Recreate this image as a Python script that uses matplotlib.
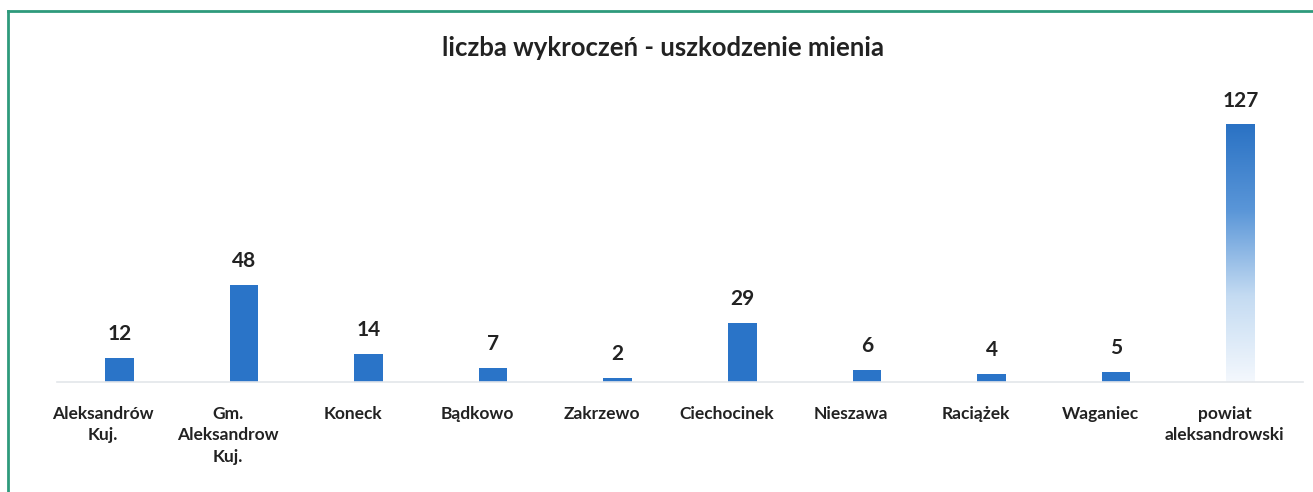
import numpy as np
import matplotlib.pyplot as plt
import matplotlib.transforms as mtransforms
from matplotlib.colors import LinearSegmentedColormap
from matplotlib.lines import Line2D

categories = ["Aleksandrów\nKuj.", "Gm.\nAleksandrow\nKuj.", "Koneck", "Bądkowo",
              "Zakrzewo", "Ciechocinek", "Nieszawa", "Raciążek", "Waganiec",
              "powiat\naleksandrowski"]
values = [12, 48, 14, 7, 2, 29, 6, 4, 5, 127]

plt.rcParams["font.family"] = ["Lato", "DejaVu Sans"]

blue = "#2a74c8"

fig = plt.figure(figsize=(13.13, 4.92), dpi=100)
ax = fig.add_axes([57 / 1313, 0.2236, 1246 / 1313, 0.577])

x = np.arange(len(values))
bars = ax.bar(x, values, width=0.23, color=blue, zorder=2)

# last bar: gradient from blue (top) to white (bottom)
last = bars[-1]
last.set_facecolor("none")
cmap = LinearSegmentedColormap.from_list("grad", ["#f4f8fd", "#c4dbf2", "#5a96d8", "#2a72c4"])
grad = np.linspace(0, 1, 256).reshape(-1, 1)
im = ax.imshow(grad, cmap=cmap, aspect="auto", origin="lower", zorder=2,
               extent=[last.get_x(), last.get_x() + last.get_width(), 0, last.get_height()])
im.set_clip_path(last)

for b, v in zip(bars, values):
    ax.annotate(str(v), (b.get_x() + b.get_width() / 2, v), xytext=(0, 10),
                textcoords="offset points", ha="center", va="bottom",
                fontsize=15, fontweight="bold", color="#222222")

ax.set_xlim(-0.5, len(values) - 0.5)
ax.set_ylim(0, 140)
ax.set_xticks(x)
ax.set_xticklabels(categories, fontsize=12.5, fontweight="bold", color="#222222",
                   linespacing=1.45)
ax.tick_params(axis="x", length=0, pad=17)
# labels sit a little left of the bars in the original
shift = mtransforms.ScaledTranslation(-0.16, 0, fig.dpi_scale_trans)
for lbl in ax.get_xticklabels():
    lbl.set_transform(lbl.get_transform() + shift)
ax.set_yticks([])
for s in ["top", "right", "left"]:
    ax.spines[s].set_visible(False)
ax.spines["bottom"].set_color("#e3e6ea")
ax.spines["bottom"].set_linewidth(1.2)

fig.text(0.505, 0.903, "liczba wykroczeń - uszkodzenie mienia", ha="center", va="center",
         fontsize=18.5, fontweight="bold", color="#222222")

# green frame (top and left)
fig.add_artist(Line2D([8 / 1313, 1], [1 - 11 / 492, 1 - 11 / 492], color="#2e9a7c", lw=2))
fig.add_artist(Line2D([8 / 1313, 8 / 1313], [0, 1 - 11 / 492], color="#2e9a7c", lw=2))

fig.savefig("out.png", dpi=100)
